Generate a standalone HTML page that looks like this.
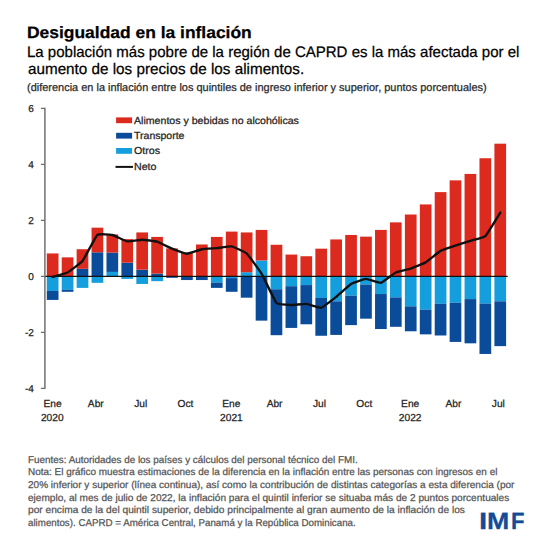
<!DOCTYPE html>
<html><head><meta charset="utf-8"><style>
html,body{margin:0;padding:0;background:#fff}
#c{position:relative;width:550px;height:550px;overflow:hidden;background:#fff}
.t{position:absolute;white-space:nowrap;line-height:1;font-family:"Liberation Sans",sans-serif;transform-origin:0 0;text-rendering:geometricPrecision;-webkit-text-stroke:0.25px currentColor}
</style></head><body><div id="c">
<svg width="550" height="550" style="position:absolute;left:0;top:0">
<rect x="46.80" y="276.40" width="11.7" height="14.56" fill="#159edd"/><rect x="46.80" y="290.96" width="11.7" height="8.96" fill="#0b4c9a"/><rect x="46.80" y="253.44" width="11.7" height="22.96" fill="#dd2a1e"/><rect x="61.72" y="276.40" width="11.7" height="13.44" fill="#159edd"/><rect x="61.72" y="289.84" width="11.7" height="1.96" fill="#0b4c9a"/><rect x="61.72" y="257.36" width="11.7" height="19.04" fill="#dd2a1e"/><rect x="76.64" y="276.40" width="11.7" height="11.48" fill="#159edd"/><rect x="76.64" y="268.84" width="11.7" height="7.56" fill="#0b4c9a"/><rect x="76.64" y="249.24" width="11.7" height="19.60" fill="#dd2a1e"/><rect x="91.56" y="276.40" width="11.7" height="6.44" fill="#159edd"/><rect x="91.56" y="252.32" width="11.7" height="24.08" fill="#0b4c9a"/><rect x="91.56" y="227.68" width="11.7" height="24.64" fill="#dd2a1e"/><rect x="106.48" y="271.92" width="11.7" height="4.48" fill="#159edd"/><rect x="106.48" y="252.60" width="11.7" height="19.32" fill="#0b4c9a"/><rect x="106.48" y="234.40" width="11.7" height="18.20" fill="#dd2a1e"/><rect x="121.40" y="276.40" width="11.7" height="2.52" fill="#159edd"/><rect x="121.40" y="262.68" width="11.7" height="13.72" fill="#0b4c9a"/><rect x="121.40" y="239.16" width="11.7" height="23.52" fill="#dd2a1e"/><rect x="136.32" y="276.40" width="11.7" height="7.56" fill="#159edd"/><rect x="136.32" y="269.68" width="11.7" height="6.72" fill="#0b4c9a"/><rect x="136.32" y="232.44" width="11.7" height="37.24" fill="#dd2a1e"/><rect x="151.24" y="276.40" width="11.7" height="4.76" fill="#159edd"/><rect x="151.24" y="273.60" width="11.7" height="2.80" fill="#0b4c9a"/><rect x="151.24" y="236.92" width="11.7" height="36.68" fill="#dd2a1e"/><rect x="166.16" y="276.40" width="11.7" height="1.40" fill="#0b4c9a"/><rect x="166.16" y="248.40" width="11.7" height="28.00" fill="#dd2a1e"/><rect x="181.08" y="276.40" width="11.7" height="3.64" fill="#0b4c9a"/><rect x="181.08" y="252.60" width="11.7" height="23.80" fill="#dd2a1e"/><rect x="196.00" y="276.40" width="11.7" height="3.64" fill="#0b4c9a"/><rect x="196.00" y="244.48" width="11.7" height="31.92" fill="#dd2a1e"/><rect x="210.92" y="276.40" width="11.7" height="6.16" fill="#159edd"/><rect x="210.92" y="282.56" width="11.7" height="5.32" fill="#0b4c9a"/><rect x="210.92" y="236.92" width="11.7" height="39.48" fill="#dd2a1e"/><rect x="225.84" y="276.40" width="11.7" height="1.68" fill="#159edd"/><rect x="225.84" y="278.08" width="11.7" height="13.72" fill="#0b4c9a"/><rect x="225.84" y="231.60" width="11.7" height="44.80" fill="#dd2a1e"/><rect x="240.76" y="272.20" width="11.7" height="4.20" fill="#159edd"/><rect x="240.76" y="276.40" width="11.7" height="21.28" fill="#0b4c9a"/><rect x="240.76" y="232.44" width="11.7" height="39.76" fill="#dd2a1e"/><rect x="255.68" y="260.44" width="11.7" height="15.96" fill="#159edd"/><rect x="255.68" y="276.40" width="11.7" height="44.24" fill="#0b4c9a"/><rect x="255.68" y="229.92" width="11.7" height="30.52" fill="#dd2a1e"/><rect x="270.60" y="276.40" width="11.7" height="12.88" fill="#159edd"/><rect x="270.60" y="289.28" width="11.7" height="45.92" fill="#0b4c9a"/><rect x="270.60" y="244.76" width="11.7" height="31.64" fill="#dd2a1e"/><rect x="285.52" y="276.40" width="11.7" height="9.80" fill="#159edd"/><rect x="285.52" y="286.20" width="11.7" height="41.72" fill="#0b4c9a"/><rect x="285.52" y="254.56" width="11.7" height="21.84" fill="#dd2a1e"/><rect x="300.44" y="276.40" width="11.7" height="8.68" fill="#159edd"/><rect x="300.44" y="285.08" width="11.7" height="39.20" fill="#0b4c9a"/><rect x="300.44" y="256.24" width="11.7" height="20.16" fill="#dd2a1e"/><rect x="315.36" y="276.40" width="11.7" height="21.56" fill="#159edd"/><rect x="315.36" y="297.96" width="11.7" height="37.80" fill="#0b4c9a"/><rect x="315.36" y="248.68" width="11.7" height="27.72" fill="#dd2a1e"/><rect x="330.28" y="276.40" width="11.7" height="24.92" fill="#159edd"/><rect x="330.28" y="301.32" width="11.7" height="33.60" fill="#0b4c9a"/><rect x="330.28" y="239.44" width="11.7" height="36.96" fill="#dd2a1e"/><rect x="345.20" y="276.40" width="11.7" height="19.32" fill="#159edd"/><rect x="345.20" y="295.72" width="11.7" height="29.40" fill="#0b4c9a"/><rect x="345.20" y="234.96" width="11.7" height="41.44" fill="#dd2a1e"/><rect x="360.12" y="276.40" width="11.7" height="8.12" fill="#159edd"/><rect x="360.12" y="284.52" width="11.7" height="34.16" fill="#0b4c9a"/><rect x="360.12" y="236.64" width="11.7" height="39.76" fill="#dd2a1e"/><rect x="375.04" y="276.40" width="11.7" height="17.64" fill="#159edd"/><rect x="375.04" y="294.04" width="11.7" height="35.00" fill="#0b4c9a"/><rect x="375.04" y="229.92" width="11.7" height="46.48" fill="#dd2a1e"/><rect x="389.96" y="276.40" width="11.7" height="21.00" fill="#159edd"/><rect x="389.96" y="297.40" width="11.7" height="29.40" fill="#0b4c9a"/><rect x="389.96" y="222.36" width="11.7" height="54.04" fill="#dd2a1e"/><rect x="404.88" y="276.40" width="11.7" height="29.96" fill="#159edd"/><rect x="404.88" y="306.36" width="11.7" height="24.92" fill="#0b4c9a"/><rect x="404.88" y="214.52" width="11.7" height="61.88" fill="#dd2a1e"/><rect x="419.80" y="276.40" width="11.7" height="33.32" fill="#159edd"/><rect x="419.80" y="309.72" width="11.7" height="24.64" fill="#0b4c9a"/><rect x="419.80" y="204.44" width="11.7" height="71.96" fill="#dd2a1e"/><rect x="434.72" y="276.40" width="11.7" height="27.44" fill="#159edd"/><rect x="434.72" y="303.84" width="11.7" height="31.64" fill="#0b4c9a"/><rect x="434.72" y="192.12" width="11.7" height="84.28" fill="#dd2a1e"/><rect x="449.64" y="276.40" width="11.7" height="26.32" fill="#159edd"/><rect x="449.64" y="302.72" width="11.7" height="39.20" fill="#0b4c9a"/><rect x="449.64" y="180.36" width="11.7" height="96.04" fill="#dd2a1e"/><rect x="464.56" y="276.40" width="11.7" height="22.68" fill="#159edd"/><rect x="464.56" y="299.08" width="11.7" height="44.24" fill="#0b4c9a"/><rect x="464.56" y="173.92" width="11.7" height="102.48" fill="#dd2a1e"/><rect x="479.48" y="276.40" width="11.7" height="27.16" fill="#159edd"/><rect x="479.48" y="303.56" width="11.7" height="50.40" fill="#0b4c9a"/><rect x="479.48" y="158.24" width="11.7" height="118.16" fill="#dd2a1e"/><rect x="494.40" y="276.40" width="11.7" height="24.92" fill="#159edd"/><rect x="494.40" y="301.32" width="11.7" height="44.80" fill="#0b4c9a"/><rect x="494.40" y="143.68" width="11.7" height="132.72" fill="#dd2a1e"/>
<line x1="44.9" y1="276.4" x2="507.7" y2="276.4" stroke="#111" stroke-width="1.1"/>
<line x1="44.9" y1="107.80" x2="44.9" y2="389.00" stroke="#707070" stroke-width="1.5"/>
<line x1="40.9" y1="108.40" x2="44.9" y2="108.40" stroke="#707070" stroke-width="1.3"/><line x1="40.9" y1="164.40" x2="44.9" y2="164.40" stroke="#707070" stroke-width="1.3"/><line x1="40.9" y1="220.40" x2="44.9" y2="220.40" stroke="#707070" stroke-width="1.3"/><line x1="40.9" y1="276.40" x2="44.9" y2="276.40" stroke="#707070" stroke-width="1.3"/><line x1="40.9" y1="332.40" x2="44.9" y2="332.40" stroke="#707070" stroke-width="1.3"/><line x1="40.9" y1="388.40" x2="44.9" y2="388.40" stroke="#707070" stroke-width="1.3"/>
<path d="M52.65,276.96 C53.40,276.74 66.08,273.28 67.57,272.48 C69.06,271.68 81.00,262.88 82.49,261.00 C83.98,259.12 95.92,236.26 97.41,234.96 C98.90,233.66 110.84,234.64 112.33,234.96 C113.82,235.28 125.76,241.16 127.25,241.40 C128.74,241.64 140.68,239.71 142.17,239.72 C143.66,239.73 155.60,241.23 157.09,241.68 C158.58,242.13 170.52,248.08 172.01,248.68 C173.50,249.28 185.44,253.69 186.93,253.72 C188.42,253.75 200.36,249.52 201.85,249.24 C203.34,248.96 215.28,248.26 216.77,248.12 C218.26,247.98 230.20,246.17 231.69,246.44 C233.18,246.71 245.12,252.08 246.61,253.44 C248.10,254.80 260.04,271.12 261.53,273.60 C263.02,276.08 274.96,301.43 276.45,303.00 C277.94,304.57 289.88,304.92 291.37,304.96 C292.86,305.00 304.80,303.70 306.29,303.84 C307.78,303.98 319.72,308.11 321.21,307.76 C322.70,307.41 334.64,298.03 336.13,296.84 C337.62,295.65 349.56,284.86 351.05,283.96 C352.54,283.06 364.48,278.98 365.97,278.92 C367.46,278.86 379.40,283.16 380.89,282.84 C382.38,282.52 394.32,273.19 395.81,272.48 C397.30,271.77 409.24,269.06 410.73,268.56 C412.22,268.06 424.16,263.28 425.65,262.40 C427.14,261.52 439.08,251.76 440.57,250.92 C442.06,250.08 454.00,246.10 455.49,245.60 C456.98,245.10 468.92,241.32 470.41,240.84 C471.90,240.36 483.84,237.49 485.33,236.08 C486.82,234.67 499.50,213.74 500.25,212.56" fill="none" stroke="#111" stroke-width="2.4" stroke-linejoin="round" stroke-linecap="round"/>
<rect x="116.1" y="117.4" width="16" height="5.8" fill="#dd2a1e"/>
<rect x="116.1" y="132.8" width="16" height="5.8" fill="#0b4c9a"/>
<rect x="116.1" y="148.0" width="16" height="5.8" fill="#159edd"/>
<line x1="115.5" y1="166.9" x2="133" y2="166.9" stroke="#111" stroke-width="2"/>
</svg>
<div class="t" id="t0" style="top:24.80px;font-size:16.5px;font-weight:700;color:#000;left:27.24px;transform:scaleX(1.0565)">Desigualdad en la inflación</div>
<div class="t" id="t1" style="top:45.20px;font-size:15.3px;font-weight:400;color:#000;left:26.62px;transform:scaleX(0.9814)">La población más pobre de la región de CAPRD es la más afectada por el</div>
<div class="t" id="t2" style="top:62.20px;font-size:15.3px;font-weight:400;color:#000;left:27.60px;transform:scaleX(0.9962)">aumento de los precios de los alimentos.</div>
<div class="t" id="t3" style="top:82.50px;font-size:11.0px;font-weight:400;color:#2a2a2a;left:27.00px;transform:scaleX(0.9970)">(diferencia en la inflación entre los quintiles de ingreso inferior y superior, puntos porcentuales)</div>
<div class="t" id="t4" style="top:116.60px;font-size:10.2px;font-weight:400;color:#222;left:134.00px;transform:scaleX(1.0400)">Alimentos y bebidas no alcohólicas</div>
<div class="t" id="t5" style="top:131.70px;font-size:10.2px;font-weight:400;color:#222;left:134.00px;transform:scaleX(1.0322)">Transporte</div>
<div class="t" id="t6" style="top:147.20px;font-size:10.2px;font-weight:400;color:#222;left:134.00px;transform:scaleX(1.0478)">Otros</div>
<div class="t" id="t7" style="top:162.70px;font-size:10.2px;font-weight:400;color:#222;left:134.00px;transform:scaleX(1.0433)">Neto</div>
<div class="t" id="t8" style="top:104.99px;font-size:10.0px;font-weight:400;color:#222;right:516.20px">6</div>
<div class="t" id="t9" style="top:160.99px;font-size:10.0px;font-weight:400;color:#222;right:516.20px">4</div>
<div class="t" id="t10" style="top:216.99px;font-size:10.0px;font-weight:400;color:#222;right:516.20px">2</div>
<div class="t" id="t11" style="top:272.99px;font-size:10.0px;font-weight:400;color:#222;right:516.20px">0</div>
<div class="t" id="t12" style="top:328.99px;font-size:10.0px;font-weight:400;color:#222;right:516.20px">-2</div>
<div class="t" id="t13" style="top:384.99px;font-size:10.0px;font-weight:400;color:#222;right:516.20px">-4</div>
<div class="t" id="t14" style="top:400.31px;font-size:10.2px;font-weight:400;color:#222;left:12.60px;width:80px;text-align:center">Ene</div>
<div class="t" id="t15" style="top:400.31px;font-size:10.2px;font-weight:400;color:#222;left:55.80px;width:80px;text-align:center">Abr</div>
<div class="t" id="t16" style="top:400.31px;font-size:10.2px;font-weight:400;color:#222;left:100.70px;width:80px;text-align:center">Jul</div>
<div class="t" id="t17" style="top:400.31px;font-size:10.2px;font-weight:400;color:#222;left:145.50px;width:80px;text-align:center">Oct</div>
<div class="t" id="t18" style="top:400.31px;font-size:10.2px;font-weight:400;color:#222;left:191.40px;width:80px;text-align:center">Ene</div>
<div class="t" id="t19" style="top:400.31px;font-size:10.2px;font-weight:400;color:#222;left:234.60px;width:80px;text-align:center">Abr</div>
<div class="t" id="t20" style="top:400.31px;font-size:10.2px;font-weight:400;color:#222;left:279.50px;width:80px;text-align:center">Jul</div>
<div class="t" id="t21" style="top:400.31px;font-size:10.2px;font-weight:400;color:#222;left:324.30px;width:80px;text-align:center">Oct</div>
<div class="t" id="t22" style="top:400.31px;font-size:10.2px;font-weight:400;color:#222;left:370.20px;width:80px;text-align:center">Ene</div>
<div class="t" id="t23" style="top:400.31px;font-size:10.2px;font-weight:400;color:#222;left:413.40px;width:80px;text-align:center">Abr</div>
<div class="t" id="t24" style="top:400.31px;font-size:10.2px;font-weight:400;color:#222;left:458.30px;width:80px;text-align:center">Jul</div>
<div class="t" id="t25" style="top:414.01px;font-size:10.2px;font-weight:400;color:#222;left:12.30px;width:80px;text-align:center">2020</div>
<div class="t" id="t26" style="top:414.01px;font-size:10.2px;font-weight:400;color:#222;left:191.40px;width:80px;text-align:center">2021</div>
<div class="t" id="t27" style="top:414.01px;font-size:10.2px;font-weight:400;color:#222;left:370.20px;width:80px;text-align:center">2022</div>
<div class="t" id="t28" style="top:455.60px;font-size:9.9px;font-weight:400;color:#555;left:28.00px;transform:scaleX(1.0011)">Fuentes: Autoridades de los países y cálculos del personal técnico del FMI.</div>
<div class="t" id="t29" style="top:468.26px;font-size:9.9px;font-weight:400;color:#555;left:28.00px;transform:scaleX(1.0072)">Nota: El gráfico muestra estimaciones de la diferencia en la inflación entre las personas con ingresos en el</div>
<div class="t" id="t30" style="top:480.90px;font-size:9.9px;font-weight:400;color:#555;left:28.00px;transform:scaleX(1.0162)">20% inferior y superior (línea continua), así como la contribución de distintas categorías a esta diferencia (por</div>
<div class="t" id="t31" style="top:493.56px;font-size:9.9px;font-weight:400;color:#555;left:28.00px;transform:scaleX(1.0218)">ejemplo, al mes de julio de 2022, la inflación para el quintil inferior se situaba más de 2 puntos porcentuales</div>
<div class="t" id="t32" style="top:506.21px;font-size:9.9px;font-weight:400;color:#555;left:28.00px;transform:scaleX(1.0310)">por encima de la del quintil superior, debido principalmente al gran aumento de la inflación de los</div>
<div class="t" id="t33" style="top:518.85px;font-size:9.9px;font-weight:400;color:#555;left:28.00px;transform:scaleX(0.9877)">alimentos). CAPRD = América Central, Panamá y la República Dominicana.</div>
<div class="t" id="t34" style="top:510.81px;font-size:23.6px;font-weight:700;color:#134b97;left:478.95px;transform:scaleX(1.2500)">I</div>
<div class="t" id="t35" style="top:510.81px;font-size:23.6px;font-weight:700;color:#134b97;left:487.07px;transform:scaleX(1.1333)">M</div>
<div class="t" id="t36" style="top:510.81px;font-size:23.6px;font-weight:700;color:#134b97;left:511.06px;transform:scaleX(0.9385)">F</div>
</div></body></html>
